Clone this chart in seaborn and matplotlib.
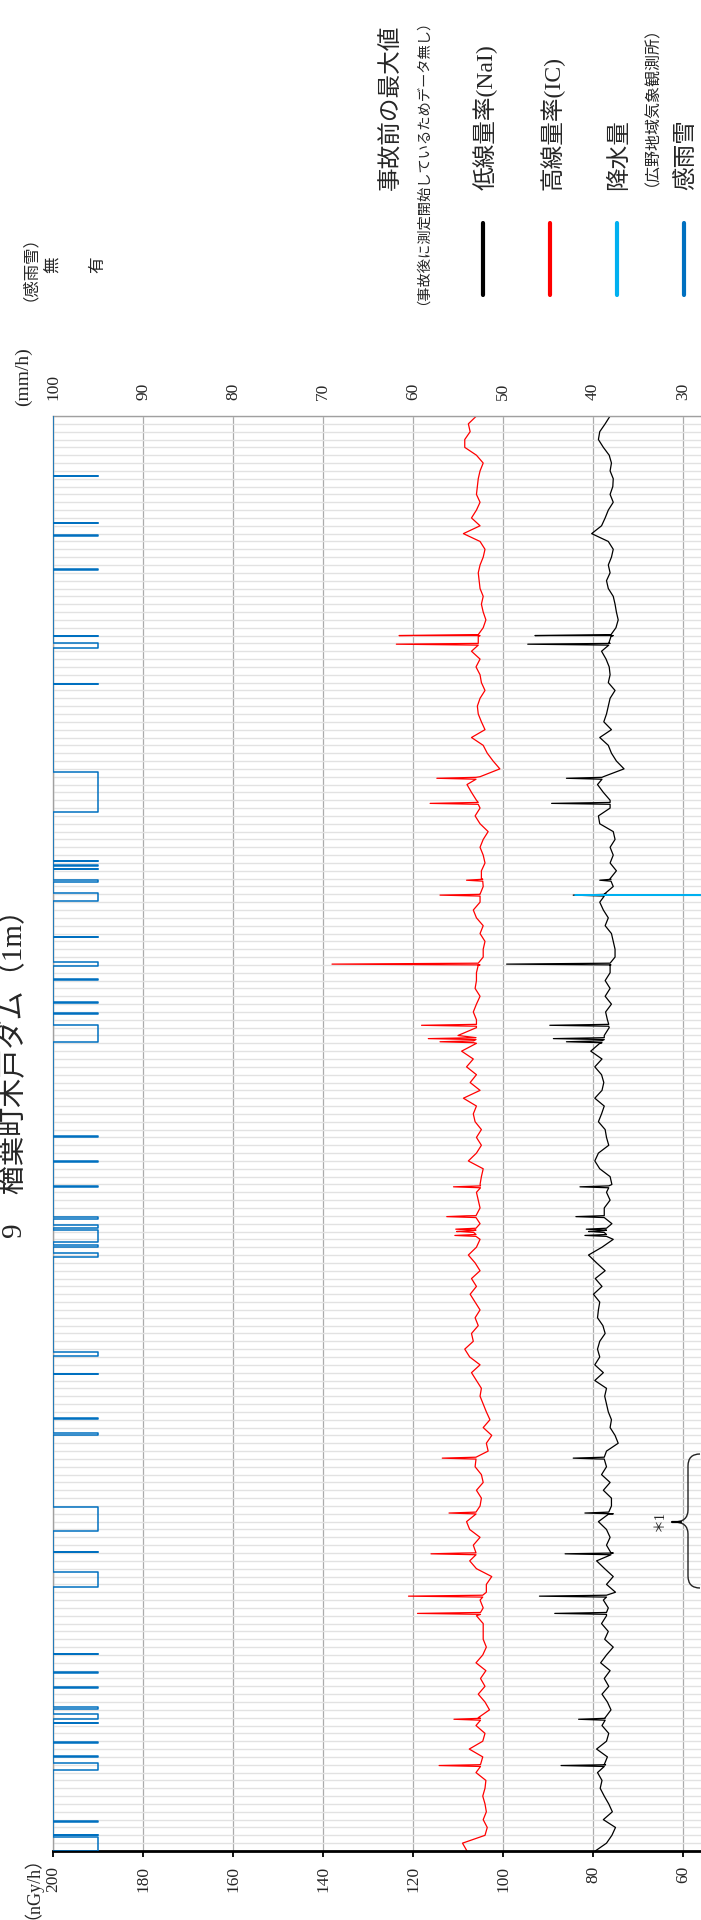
import numpy as np
import pandas as pd
import seaborn as sns
import matplotlib.pyplot as plt
from matplotlib.lines import Line2D
from matplotlib.path import Path
from matplotlib.patches import PathPatch

# daily dose rate values (nGy/h), day 0 .. 183
nai_daily = [
    79.5, 77.0, 75.8, 75.0, 77.7, 75.7, 76.5, 77.5, 78.4, 78.0,
    79.0, 77.2, 76.8, 79.2, 77.0, 76.5, 78.0, 77.3, 76.0, 76.8,
    78.0, 76.5, 77.5, 76.2, 78.3, 77.0, 75.5, 77.4, 76.6, 78.1,
    77.0, 76.6, 77.7, 75.0, 77.0, 75.5, 77.4, 79.2, 75.5, 77.0,
    76.2, 77.0, 78.8, 75.5, 75.9, 75.9, 77.7, 76.2, 78.1, 77.0,
    79.2, 77.0, 74.4, 75.1, 76.2, 75.9, 76.6, 77.0, 77.4, 77.0,
    79.6, 77.7, 79.6, 78.5, 79.0, 78.5, 77.3, 77.8, 79.0, 78.8,
    78.5, 79.9, 78.0, 79.5, 77.3, 79.2, 81.0, 78.0, 75.5, 81.0,
    75.8, 78.0, 77.5, 76.2, 77.0, 75.8, 76.2, 78.5, 79.6, 78.8,
    76.5, 77.0, 77.3, 78.8, 78.1, 77.5, 79.6, 78.0, 77.6, 78.1,
    79.6, 78.0, 80.5, 78.5, 77.5, 76.4, 76.8, 77.2, 75.9, 77.3,
    76.2, 77.3, 76.2, 76.0, 75.1, 75.1, 75.5, 75.9, 77.3, 76.6,
    77.7, 78.5, 77.0, 75.5, 76.2, 74.8, 76.2, 75.5, 76.2, 75.1,
    75.5, 78.5, 78.8, 76.2, 76.2, 77.7, 79.0, 77.7, 73.1, 74.8,
    75.9, 76.6, 78.5, 75.9, 77.6, 77.0, 76.6, 76.2, 75.1, 76.6,
    76.2, 76.4, 77.1, 78.1, 76.2, 75.5, 74.9, 74.4, 74.8, 75.1,
    75.5, 76.6, 77.0, 76.2, 76.6, 75.9, 75.5, 76.6, 80.3, 78.1,
    77.3, 76.6, 75.5, 76.2, 75.6, 75.5, 76.2, 75.9, 76.4, 77.7,
    78.8, 78.5, 77.3, 76.2,
]
ic_daily = [
    108.0, 109.0, 104.0, 103.5, 104.4, 103.7, 104.0, 104.5, 104.0, 103.8,
    106.0, 105.5, 104.5, 107.5, 104.5, 104.0, 106.0, 105.5, 103.0, 104.0,
    105.5, 104.0, 105.0, 103.8, 106.0, 104.5, 103.7, 104.4, 104.4, 104.4,
    105.9, 104.4, 105.1, 103.7, 103.7, 102.5, 105.9, 107.4, 108.8, 106.6,
    105.1, 107.4, 108.1, 106.6, 105.1, 104.8, 105.9, 104.4, 104.8, 106.2,
    107.4, 103.3, 103.7, 102.5, 104.4, 102.9, 103.7, 104.4, 105.1, 104.8,
    105.9, 107.0, 105.1, 107.4, 108.5, 106.6, 107.0, 105.5, 106.2, 105.1,
    106.2, 107.3, 105.9, 107.0, 105.1, 106.2, 107.7, 105.9, 105.1, 110.3,
    105.1, 108.1, 105.1, 105.5, 105.9, 105.1, 104.8, 104.4, 107.7, 105.9,
    104.8, 105.9, 104.8, 106.2, 106.6, 105.9, 108.8, 105.1, 107.3, 105.9,
    108.1, 106.6, 109.2, 105.9, 110.0, 105.9, 105.9, 106.6, 105.9, 105.1,
    106.2, 105.9, 105.9, 105.1, 104.4, 104.4, 104.0, 105.1, 104.4, 105.9,
    106.6, 105.1, 105.1, 104.4, 104.8, 104.8, 104.0, 104.4, 105.1, 104.4,
    103.3, 105.1, 106.2, 105.1, 105.9, 107.0, 108.0, 105.1, 100.7, 102.2,
    103.5, 104.4, 107.0, 104.0, 104.8, 105.5, 105.7, 105.1, 104.0, 104.8,
    105.1, 106.0, 105.1, 107.0, 105.5, 105.1, 104.4, 103.8, 104.4, 104.8,
    104.4, 105.1, 105.3, 105.5, 105.1, 104.4, 104.0, 105.1, 108.8, 105.1,
    107.0, 105.9, 105.1, 105.9, 105.7, 105.5, 105.1, 104.4, 105.9, 108.5,
    108.5, 107.3, 107.7, 105.9,
]

# short spikes: time (day), base and peak for each detector
spike_t = [10.9, 16.8, 30.3, 32.5, 37.9, 43.1, 50.1, 78.5, 79.0, 79.3,
           80.9, 84.7, 103.2, 103.6, 105.3, 113.1, 121.9, 123.8, 133.6, 136.8,
           153.9, 155.0]
spike_nai_base = [77.5, 77.3, 77.0, 77.0, 76.0, 76.5, 77.5, 77.0, 77.5, 77.0,
                  77.5, 76.5, 78.0, 77.5, 76.5, 76.2, 77.5, 76.0, 76.2, 78.0,
                  76.5, 76.0]
spike_nai_peak = [87.1, 83.2, 88.5, 91.9, 86.2, 81.8, 84.4, 81.8, 80.5, 81.5,
                  83.8, 82.9, 85.9, 88.8, 89.6, 99.2, 84.4, 78.5, 89.2, 85.9,
                  94.5, 92.9]
spike_ic_base = [105.0, 105.0, 105.0, 104.5, 106.0, 106.0, 106.0, 106.0, 106.5, 106.0,
                 106.0, 105.0, 106.5, 106.0, 105.9, 105.5, 105.1, 104.5, 105.5, 106.0,
                 105.5, 105.5]
spike_ic_peak = [114.2, 110.9, 119.0, 121.0, 116.0, 112.0, 113.5, 110.7, 109.5, 110.5,
                 112.5, 111.0, 114.0, 116.6, 118.1, 138.0, 114.0, 108.1, 116.2, 114.7,
                 123.7, 123.1]

# precipitation (mm/h) at Hirono
rain_t = [0.0, 121.85, 121.9, 121.95, 183.0]
rain_mm = [0.0, 0.0, 42.0, 0.0, 0.0]

# rain/snow detection periods (start day, end day)
detect_start = [0.0, 2.0, 3.7, 10.3, 12.0, 13.8, 16.3, 16.8, 18.1, 20.8,
                22.7, 25.1, 33.7, 38.1, 40.8, 53.0, 55.1, 60.8, 63.1, 75.7,
                77.0, 77.7, 79.4, 80.6, 84.7, 87.9, 91.1, 103.2, 106.8, 108.2,
                111.1, 112.9, 116.5, 121.1, 123.6, 125.2, 125.6, 126.2, 132.5, 148.8,
                153.4, 154.9, 163.4, 167.7, 169.3, 175.3]
detect_end = [1.75, 2.08, 3.78, 11.2, 12.08, 13.88, 16.38, 17.5, 18.35, 20.88,
              22.78, 25.18, 35.6, 38.18, 43.9, 53.3, 55.18, 60.88, 63.6, 76.3,
              77.3, 79.2, 79.8, 80.8, 84.78, 87.98, 91.18, 105.4, 106.88, 108.28,
              111.18, 113.4, 116.58, 122.2, 123.8, 125.28, 125.68, 126.3, 137.6, 148.88,
              154.0, 155.0, 163.48, 167.78, 169.38, 175.38]

W, H = 701, 1920


def px(x, y):
    # pixel position (from top-left) to figure fraction
    return x / W, 1 - y / H


def build_series(vals, s_t, s_base, s_peak):
    pts = list(zip(np.arange(len(vals)), vals))
    for t, b, p in zip(s_t, s_base, s_peak):
        pts += [(t - 0.12, b), (t, p), (t + 0.12, b)]
    pts.sort()
    return pd.DataFrame(pts, columns=['day', 'value'])


nai_df = build_series(nai_daily, spike_t, spike_nai_base, spike_nai_peak)
ic_df = build_series(ic_daily, spike_t, spike_ic_base, spike_ic_peak)

det_pts = [(0.0, 0)]
for s, e in zip(detect_start, detect_end):
    det_pts += [(s, 0), (s, 1), (e, 1), (e, 0)]
det_pts.append((183.0, 0))
det_df = pd.DataFrame(det_pts, columns=['day', 'flag'])
rain_df = pd.DataFrame({'day': rain_t, 'mm': rain_mm})

sns.set_theme(style='white')
plt.rcParams['font.family'] = ['Liberation Serif', 'Noto Sans CJK JP']

fig = plt.figure(figsize=(W / 100, H / 100), dpi=100)
ax = fig.add_axes([53 / W, (H - 1851) / H, 900 / W, 1435 / H])
ax.set_xlim(200, 0)
ax.set_ylim(0, 183)
ax.set_xticks(range(60, 201, 20))
ax.set_yticks(range(0, 184))
ax.grid(axis='y', color='#e2e2e2', lw=1.0)
ax.grid(axis='x', color='#ababab', lw=0.9)
ax.set_axisbelow(True)
ax.tick_params(axis='y', length=0, labelleft=False)
ax.tick_params(axis='x', direction='out', length=4.5, width=1.3, color='black',
               labelsize=12.5, labelrotation=90, pad=6, bottom=True)
for side in ['top', 'left']:
    ax.spines[side].set_color('#a0a0a0')
    ax.spines[side].set_linewidth(1.0)
ax.spines['right'].set_visible(False)
ax.spines['bottom'].set_color('black')
ax.spines['bottom'].set_linewidth(2.0)

sns.lineplot(data=ic_df, x='value', y='day', orient='y', sort=False, estimator=None,
             color='#ff0000', lw=0.9, ax=ax)
sns.lineplot(data=nai_df, x='value', y='day', orient='y', sort=False, estimator=None,
             color='black', lw=0.9, ax=ax)
ax.set_xlabel('')
ax.set_ylabel('')

# precipitation axis (mm/h), top
ax2 = ax.twiny()
ax2.set_xlim(100, 0)
ax2.set_xticks(range(30, 101, 10))
ax2.tick_params(axis='x', length=0, labelsize=12.5, labelrotation=90, pad=11.5)
for side in ax2.spines:
    ax2.spines[side].set_visible(False)
ax2.plot(rain_df['mm'], rain_df['day'], color='#00b0f0', lw=1.2)
ax2.set_ylim(0, 183)

# rain/snow detection axis, further up
ax3 = ax.twiny()
ax3.set_xlim(0, 20)
ax3.set_xticks([0, 1], ['無', '有'])
ax3.tick_params(axis='x', length=0, labelsize=12, labelrotation=90, pad=103)
for side in ax3.spines:
    ax3.spines[side].set_visible(False)
ax3.plot(det_df['flag'], det_df['day'], color='#0070c0', lw=1.1)
ax3.set_ylim(0, 183)

# unit labels and title
fig.text(*px(23, 1878), '（nGy/h）', rotation=90, ha='center', va='center', fontsize=13)
fig.text(*px(23, 377), '(mm/h)', rotation=90, ha='center', va='center', fontsize=14)
fig.text(*px(22, 260), '（感雨雪）', rotation=90, ha='center', va='center', fontsize=11.8)
fig.text(*px(14, 1066), '9　楢葉町木戸ダム（1m）', rotation=90, ha='center', va='center',
         fontsize=21)

# legend
fig.text(*px(391, 190), '事故前の最大値', rotation=90, ha='center', va='bottom', fontsize=17)
fig.text(*px(416, 305), '（事故後に測定開始しているためデータ無し）', rotation=90,
         ha='center', va='bottom', fontsize=10.3)
legend_items = [('低線量率(NaI)', 'black', 485), ('高線量率(IC)', '#ff0000', 552),
                ('降水量', '#00b0f0', 619), ('感雨雪', '#0070c0', 686)]
for label, col, xc in legend_items:
    fig.text(*px(xc, 190), label, rotation=90, ha='center', va='bottom', fontsize=17)
    x0, y0 = px(xc - 2, 223)
    _, y1 = px(xc - 2, 295)
    fig.add_artist(Line2D([x0, x0], [y0, y1], color=col, lw=3, transform=fig.transFigure))
fig.text(*px(644, 186), '（広野地域気象観測所）', rotation=90, ha='center', va='bottom',
         fontsize=11.5)

# note *1 with brace
fig.text(*px(659, 1521), '＊1', rotation=90, ha='center', va='center', fontsize=10)
brace = [(700, 1454), (688, 1454), (688, 1466), (688, 1510), (688, 1522), (674, 1522),
         (688, 1522), (688, 1534), (688, 1576), (688, 1588), (700, 1588)]
codes = [Path.MOVETO, Path.CURVE3, Path.CURVE3, Path.LINETO, Path.CURVE3, Path.CURVE3,
         Path.CURVE3, Path.CURVE3, Path.LINETO, Path.CURVE3, Path.CURVE3]
brace_path = Path([px(x, y) for x, y in brace], codes)
fig.add_artist(PathPatch(brace_path, fill=False, lw=1.0, color='#222222',
                         transform=fig.transFigure))
fig.add_artist(Line2D([px(672, 0)[0], px(681, 0)[0]], [px(0, 1522)[1]] * 2, color='black',
                      lw=1.6, transform=fig.transFigure))

fig.savefig('out.png', dpi=100)
